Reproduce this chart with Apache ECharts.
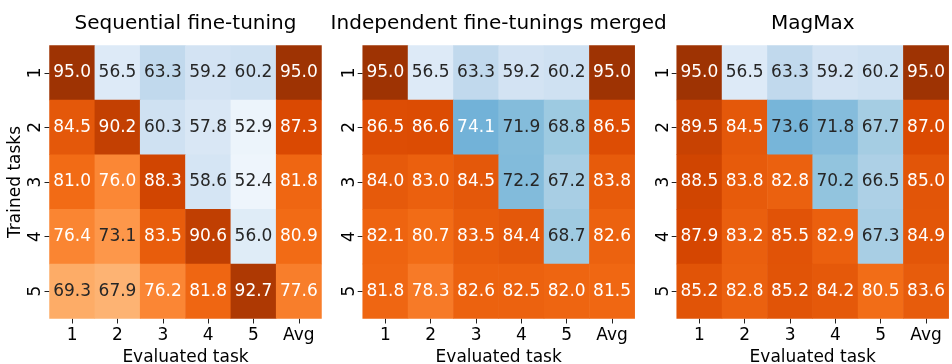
<!DOCTYPE html>
<html>
<head>
<meta charset="utf-8">
<script src="https://cdn.jsdelivr.net/npm/echarts@6/dist/echarts.min.js"></script>
<style>
html,body{margin:0;padding:0;background:#fff;}
#chart{width:952px;height:364px;}
</style>
</head>
<body>
<div id="chart"></div>
<script>
// ---- data ----
const titles = ['Sequential fine-tuning', 'Independent fine-tunings merged', 'MagMax'];
const evalLabels = ['1', '2', '3', '4', '5', 'Avg'];
const trainedLabels = ['1', '2', '3', '4', '5'];
const sequential = [
  [95.0, 56.5, 63.3, 59.2, 60.2, 95.0],
  [84.5, 90.2, 60.3, 57.8, 52.9, 87.3],
  [81.0, 76.0, 88.3, 58.6, 52.4, 81.8],
  [76.4, 73.1, 83.5, 90.6, 56.0, 80.9],
  [69.3, 67.9, 76.2, 81.8, 92.7, 77.6]
];
const independent = [
  [95.0, 56.5, 63.3, 59.2, 60.2, 95.0],
  [86.5, 86.6, 74.1, 71.9, 68.8, 86.5],
  [84.0, 83.0, 84.5, 72.2, 67.2, 83.8],
  [82.1, 80.7, 83.5, 84.4, 68.7, 82.6],
  [81.8, 78.3, 82.6, 82.5, 82.0, 81.5]
];
const magmax = [
  [95.0, 56.5, 63.3, 59.2, 60.2, 95.0],
  [89.5, 84.5, 73.6, 71.8, 67.7, 87.0],
  [88.5, 83.8, 82.8, 70.2, 66.5, 85.0],
  [87.9, 83.2, 85.5, 82.9, 67.3, 84.9],
  [85.2, 82.8, 85.2, 84.2, 80.5, 83.6]
];
const matrices = [sequential, independent, magmax];

// ---- colormaps (matplotlib Blues / Oranges), vmin 50, vmax 100 ----
const BLUES = ['#f7fbff','#deebf7','#c6dbef','#9ecae1','#6baed6','#4292c6','#2171b5','#08519c','#08306b'];
const ORANGES = ['#fff5eb','#fee6ce','#fdd0a2','#fdae6b','#fd8d3c','#f16913','#d94801','#a63603','#7f2704'];
const VMIN = 50, VMAX = 100;
function hex2rgb(h){return [parseInt(h.slice(1,3),16),parseInt(h.slice(3,5),16),parseInt(h.slice(5,7),16)];}
function cmap(stops, v){
  let t = (v - VMIN) / (VMAX - VMIN);
  t = Math.max(0, Math.min(1, t));
  t = Math.floor(t * 255.999) / 255; // 256-level lut like matplotlib
  const p = t * (stops.length - 1);
  const i = Math.min(stops.length - 2, Math.floor(p));
  const f = p - i;
  const a = hex2rgb(stops[i]), b = hex2rgb(stops[i+1]);
  return [0,1,2].map(k => Math.round(a[k] + (b[k]-a[k]) * f));
}
function lum(rgb){
  const c = rgb.map(x => { x /= 255; return x <= 0.03928 ? x/12.92 : Math.pow((x+0.055)/1.055, 2.4); });
  return 0.2126*c[0] + 0.7152*c[1] + 0.0722*c[2];
}

const FONT = 'DejaVu Sans';
const gridLefts = [49.5, 362.7, 676.7];
const GRID_TOP = 45.5, GRID_W = 272, GRID_H = 273;

const grids = [], xAxes = [], yAxes = [], series = [], titleOpts = [];
matrices.forEach((m, gi) => {
  grids.push({left: gridLefts[gi], top: GRID_TOP, width: GRID_W, height: GRID_H, containLabel: false, outerBoundsMode: 'none'});
  titleOpts.push({
    text: titles[gi], left: gridLefts[gi] + GRID_W / 2, top: 14, textAlign: 'center', padding: 0,
    textStyle: {fontFamily: FONT, fontSize: 20, fontWeight: 'normal', color: '#000'}
  });
  xAxes.push({
    type: 'category', gridIndex: gi, data: evalLabels, position: 'bottom',
    name: 'Evaluated task', nameLocation: 'middle', nameGap: 24,
    nameTextStyle: {fontFamily: FONT, fontSize: 17, color: '#000'},
    axisLine: {show: false},
    axisTick: {show: true, alignWithLabel: true, length: 5, lineStyle: {color: '#222', width: 1}},
    axisLabel: {fontFamily: FONT, fontSize: 17, color: '#000', margin: 9},
    splitLine: {show: false}
  });
  yAxes.push({
    type: 'category', gridIndex: gi, data: trainedLabels, inverse: true,
    name: gi === 0 ? 'Trained tasks' : '', nameLocation: 'middle', nameGap: 25,
    nameTextStyle: {fontFamily: FONT, fontSize: 17, color: '#000'},
    axisLine: {show: false},
    axisTick: {show: true, alignWithLabel: true, length: 5, lineStyle: {color: '#222', width: 1}},
    axisLabel: {fontFamily: FONT, fontSize: 17, color: '#000', margin: 5, rotate: 90},
    splitLine: {show: false}
  });
  const items = [];
  m.forEach((row, r) => row.forEach((v, c) => {
    const isBlue = c < 5 && c > r;
    const rgb = cmap(isBlue ? BLUES : ORANGES, v);
    const txt = lum(rgb) > 0.408 ? '#262626' : '#ffffff';
    items.push({
      value: [c, r, v],
      itemStyle: {color: 'rgb(' + rgb.join(',') + ')'},
      label: {color: txt}
    });
  }));
  series.push({
    type: 'heatmap', xAxisIndex: gi, yAxisIndex: gi, data: items,
    label: {show: true, fontFamily: FONT, fontSize: 17, formatter: p => p.value[2].toFixed(1)},
    itemStyle: {borderWidth: 0},
    emphasis: {disabled: true},
    animation: false
  });
});

const chart = echarts.init(document.getElementById('chart'), null, {renderer: 'canvas'});
chart.setOption({
  animation: false,
  backgroundColor: '#fff',
  title: titleOpts,
  grid: grids,
  xAxis: xAxes,
  yAxis: yAxes,
  series: series
});
</script>
</body>
</html>
